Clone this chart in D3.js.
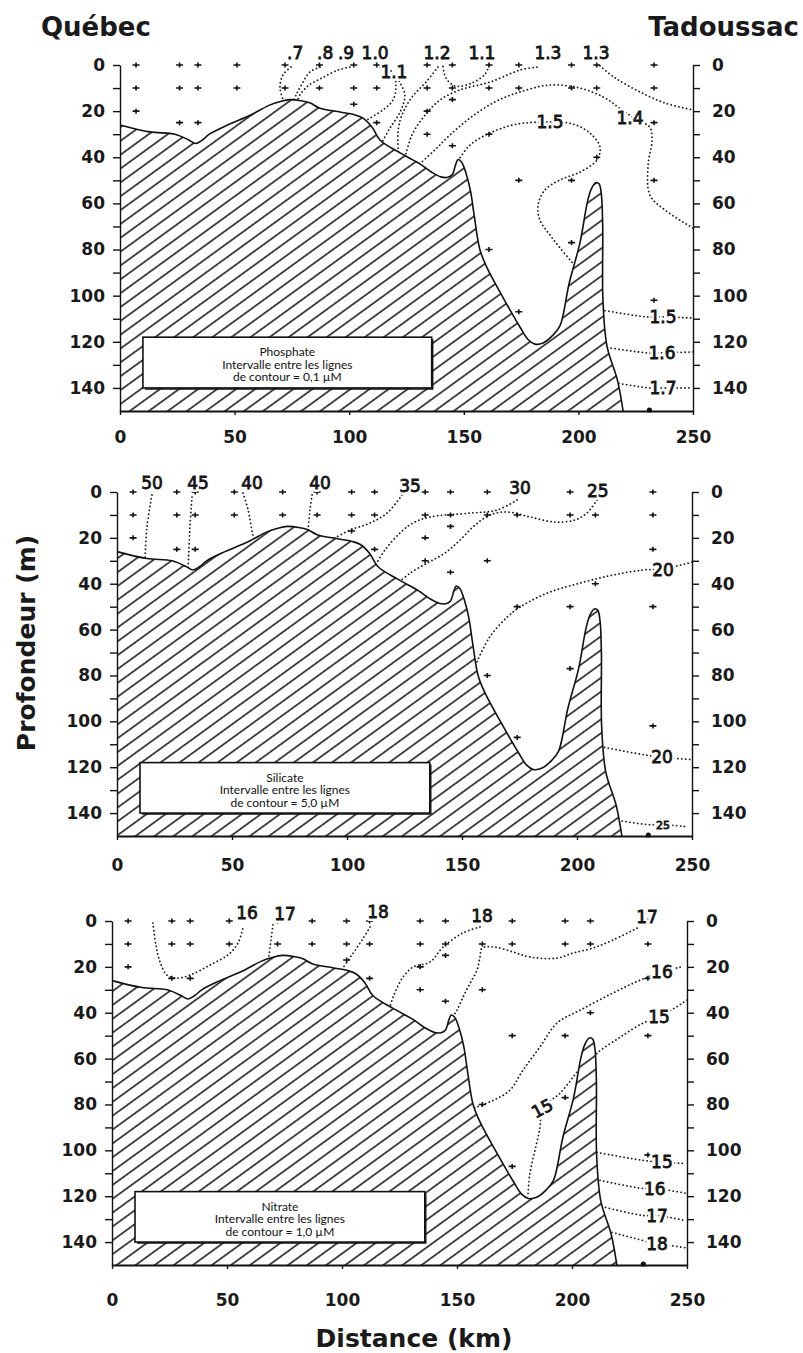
<!DOCTYPE html>
<html lang="fr">
<head>
<meta charset="UTF-8">
<title>Phosphate, silicate, nitrate - Québec à Tadoussac</title>
<style>
  body { margin: 0; background: #fff; }
  svg { display: block; }
  .big { font-family: "DejaVu Sans", sans-serif; font-weight: bold; font-size: 26px; fill: #1a1a1a; }
  .axis text { font-family: "DejaVu Sans", sans-serif; font-weight: bold; font-size: 17px; fill: #1a1a1a; }
  .axis path, .axis line { stroke: #111; stroke-width: 1.4; }
  .xaxis path { stroke-width: 2.2; }
  .contour { fill: none; stroke: #1a1a1a; stroke-width: 1.8; stroke-dasharray: 0.1 3.8; stroke-linecap: round; }
  .halo { font-family: "DejaVu Sans", sans-serif; font-size: 17px; fill: #fff; stroke: #fff; stroke-width: 6px; stroke-linejoin: round; }
  .clabel { font-family: "DejaVu Sans", sans-serif; font-size: 17px; fill: #151515; stroke: #151515; stroke-width: 0.8px; }
  .legend text { font-family: "Lato", "Noto Sans", sans-serif; font-size: 12px; fill: #111; }
</style>
</head>
<body>
<svg width="803" height="1353"></svg>
<script src="https://d3js.org/d3.v7.min.js"></script>
<script>

  var distanceTicks = [0, 50, 100, 150, 200, 250];
  var depthTicks = [0, 10, 20, 30, 40, 50, 60, 70, 80, 90, 100, 110, 120, 130, 140];
  var depthLabels = [0, 20, 40, 60, 80, 100, 120, 140];

  // fond du chenal (km, profondeur m)
  var bottomProfile = [
    [0, 26], [13, 29], [24, 30], [30, 32.5], [33, 34], [36, 32.5], [39, 30], [47, 26],
    [57, 21.7], [65, 17.5], [70, 15.8], [74, 15], [79, 15.5], [83, 16.5], [87, 18.6],
    [96, 20.4], [102, 21.5], [106, 23], [110, 27], [113.4, 32.5], [122, 38], [131, 43],
    [136, 46.5], [140, 48.5], [143, 48.7], [145, 47.5], [146.5, 43], [147.5, 41],
    [149, 42], [151, 47], [153, 55], [154.5, 65], [157, 80], [160, 87.6], [167, 100.6],
    [174.5, 113.6], [178, 119], [181, 121], [184.6, 120.5], [189, 117], [192, 113],
    [196, 94.5], [200.7, 77], [203.8, 60], [205.5, 54], [207.5, 51], [209, 51.5],
    [210, 56], [210.6, 70], [210.7, 101.9], [212.5, 122], [217, 136.5], [219.5, 150]
  ];

  var stations = [
    {km: 7, depths: [0, 10, 20]},
    {km: 26, depths: [0, 10, 25]},
    {km: 34, depths: [0, 10, 25]},
    {km: 51, depths: [0, 10]},
    {km: 72, depths: [0, 10]},
    {km: 87, depths: [0, 10]},
    {km: 102, depths: [0, 10, 17]},
    {km: 112, depths: [0, 10, 25]},
    {km: 134, depths: [0, 10, 20, 30]},
    {km: 145, depths: [0, 10, 15, 35]},
    {km: 161, depths: [0, 10, 30, 80]},
    {km: 174, depths: [0, 10, 50, 107]},
    {km: 197, depths: [0, 10, 50, 77]},
    {km: 208, depths: [0, 10, 40]},
    {km: 233, depths: [0, 10, 25, 50, 102]}
  ];
  var bottomSample = [231, 150];

  var phosphateContours = [
    {id: "p07", label: ".7", at: [76.4, -5.4], pts: [[74.6, 0.9], [71.1, 4.3], [69.8, 10], [71.6, 16]]},
    {id: "p08", label: ".8", at: [89.5, -5.4], pts: [[87.3, 0.9], [82.9, 3], [79.4, 8.2], [76.8, 13], [75.5, 16]]},
    {id: "p09", label: ".9", at: [98.6, -5.4], pts: [[100.3, 0.9], [95.1, 2.2], [88.1, 5.6], [82, 9.1], [78.5, 13], [77.2, 16]]},
    {id: "p10", label: "1.0", at: [111.3, -5.4], pts: [[113.4, 0.9], [118.7, 3], [120.4, 8.7], [119.1, 15.2], [114.7, 19.5], [108.2, 23.5]]},
    {id: "p11a", label: "1.1", at: [119.5, 3], pts: [[121.8, 7], [124.3, 13], [122.2, 20.4], [117.8, 27.3], [114.3, 33.5]]},
    {id: "p12", label: "1.2", at: [138.3, -5.4], pts: [[138.7, 0.9], [133.5, 7.4], [127.4, 13.9], [123, 21.7], [121.3, 29], [121.5, 38]]},
    {id: "p11b", label: "1.1", at: [157.9, -5.4], pts: [[161, 0.4], [159.3, 3.9], [153.6, 7.8], [146.2, 9.1], [142.2, 5.6], [140.9, 0.4]]},
    {id: "p13a", label: "1.3", at: [186.7, -5.4], pts: [[181.9, 0.9], [174.5, 2.2], [161.4, 7.4], [148.3, 10.8], [139.6, 15.2], [133.1, 21.7], [127.4, 30.3], [124.5, 39.5]]},
    {id: "p13b", label: "1.3", at: [207.7, -5.4], pts: [[209.4, 0.4], [216, 5.6], [226.9, 11.7], [237.8, 16.5], [250, 19.5]]},
    {id: "p14", label: "1.4", at: [222.5, 23], pts: [[129.5, 44], [137.4, 36.8], [144, 30.3], [152.7, 23], [163.6, 16], [174.5, 11.7], [187.6, 8.7], [200.7, 10], [211.6, 14.3], [219, 19.5], [226, 24], [231.2, 27], [232.1, 33], [230.4, 43.3], [231.2, 56.4], [237.8, 62.9], [250, 70.7]]},
    {id: "p15a", label: "1.5", at: [187.6, 24.7], pts: [[147.5, 41.5], [152.7, 34.7], [161.4, 29.5], [172.3, 25.8], [187.6, 24.7], [197.6, 25.6], [205, 29.5], [209.4, 35.5], [208.1, 41.2], [200.7, 46.4], [192, 49.8], [185.4, 54.2], [182.4, 60.7], [183.2, 67.2], [187.6, 73.7], [192, 79.3], [197.6, 86]]},
    {id: "p15b", label: "1.5", at: [236.9, 109.2], pts: [[210, 106.2], [229.9, 109.2], [236.9, 109.2], [250, 109.7]]},
    {id: "p16", label: "1.6", at: [236.5, 124.8], pts: [[211, 122.2], [229.9, 124.8], [236.5, 124.8], [250, 124.4]]},
    {id: "p17", label: "1.7", at: [236.9, 140], pts: [[216, 137.8], [231.2, 140], [236.9, 140], [248.7, 140]]}
  ];

  var silicateContours = [
    {id: "s50", label: "50", at: [15.2, -4], pts: [[15.2, 1.3], [13, 15.3], [12.2, 29.5]]},
    {id: "s45", label: "45", at: [35.2, -4], pts: [[32.6, 2.2], [31.7, 15.3], [30.9, 34.5]]},
    {id: "s40a", label: "40", at: [58.7, -4], pts: [[54.8, 0.5], [57, 7.8], [59.1, 18.7], [60, 21]]},
    {id: "s40b", label: "40", at: [88.3, -4], pts: [[84.8, 1.3], [83.9, 7.9], [83, 17.5]]},
    {id: "s35", label: "35", at: [127.4, -2.6], pts: [[123.9, 1.3], [117.4, 9.2], [110, 13.5], [101.3, 16.6], [93.9, 20.5]]},
    {id: "s30", label: "30", at: [175.2, -1.7], pts: [[173.9, 3.5], [165.2, 7.9], [153.5, 9.2], [136.1, 10.9], [128.7, 13.5], [123, 17.9], [116.5, 25.3], [112, 32.5]]},
    {id: "s25", label: "25", at: [209, -0.4], pts: [[208.7, 3.5], [204.3, 9.2], [199.1, 12.2], [190.4, 13.1], [179.6, 10.9], [169.6, 8.7], [162.2, 10], [155.7, 14.4], [149.1, 21], [142.6, 26.6], [134.8, 31], [127.4, 35.4], [123, 39]]},
    {id: "s20a", label: "20", at: [237.4, 34], pts: [[156.5, 74], [162, 63.3], [169.6, 54.6], [175.2, 50.2], [187, 44.1], [201.3, 39.7], [215.7, 36.2], [228.7, 34], [237.4, 33.5], [250, 30.6]]},
    {id: "s20b", label: "20", at: [237, 115.7], pts: [[212, 111.4], [230.4, 114.8], [237, 115.7], [249, 116.6]]},
    {id: "s25b", label: "25", at: [237.4, 145], pts: [[218, 143.2], [230.4, 145], [237.4, 145], [247, 145.9]]}
  ];

  var nitrateContours = [
    {id: "n16a", label: "16", at: [58.7, -3.5], pts: [[17.8, 0.9], [19.1, 10.5], [20.9, 17.9], [23.9, 23.6], [28.3, 24.9], [33.9, 23.6], [42.6, 19.2], [50.4, 14.8], [54.8, 9.6], [57, 2.6]]},
    {id: "n17a", label: "17", at: [75.2, -3], pts: [[70, 1.7], [69.1, 8.3], [68.3, 14.8], [67.8, 18]]},
    {id: "n18a", label: "18", at: [115.7, -3.9], pts: [[112.2, 2.6], [108.7, 8.3], [104.3, 14.8], [100, 21]]},
    {id: "n18b", label: "18", at: [160.9, -2.2], pts: [[160, 2.6], [152.6, 5.2], [143.9, 11.4], [138.3, 17.9], [130.9, 20.1], [126.5, 24.5], [122.2, 33.2], [120.9, 37.5]]},
    {id: "n17b", label: "17", at: [232.6, -1.7], pts: [[228.3, 3.1], [217.8, 8.3], [209.1, 11.8], [200.4, 14], [193.5, 16.2], [181.7, 15.7], [174.3, 13.5], [166.5, 11.4], [160.9, 11.8], [160, 15.7], [158.7, 21.4], [155.7, 27.1], [152.6, 33.2], [150, 38.9], [148, 42]]},
    {id: "n16b", label: "16", at: [239.1, 22.3], pts: [[247, 20.1], [239.1, 22.3], [229.6, 25.8], [217.8, 31.4], [203.5, 38.9], [193.5, 44.5], [186, 55], [178.7, 65], [173, 73.8], [165.7, 78.2], [157.5, 81.5]]},
    {id: "n15a", label: "15", at: [237.8, 41.9], pts: [[250, 34.5], [237.8, 41.9], [230.9, 44.5], [220.9, 50.7], [210.9, 57.6], [209, 60]]},
    {id: "n15b", label: "15", at: [187, 81.7], pts: [[202, 66], [194.8, 75.1], [187, 81.7], [186.1, 90], [183.9, 100], [181.7, 110], [180.8, 120]]},
    {id: "n15c", label: "15", at: [239.1, 105.2], pts: [[210.9, 100.9], [230.9, 104.4], [239.1, 105.2], [248.3, 105.7]]},
    {id: "n16c", label: "16", at: [236, 116.6], pts: [[212.2, 113.1], [230.9, 116.6], [236, 116.6], [250, 118.8]]},
    {id: "n17c", label: "17", at: [237, 128.4], pts: [[213, 124.5], [230.9, 128.4], [237, 128.4], [249, 130.6]]},
    {id: "n18c", label: "18", at: [237, 140.6], pts: [[217.4, 135.8], [230.9, 139.3], [237, 140.6], [249, 142.4]]}
  ];

  // quelques étiquettes dessinées autrement
  var labelTweaks = {
    s25b: {size: 11},
    n15b: {rotate: -28}
  };

  var panels = [
    {name: "Phosphate", step: "0,1", contours: phosphateContours, x0: 120, x1: 693, y0: 65, y1: 411, xPad: 16},
    {name: "Silicate", step: "5,0", contours: silicateContours, x0: 117, x1: 692, y0: 492, y1: 836, xPad: 19},
    {name: "Nitrate", step: "1,0", contours: nitrateContours, x0: 112, x1: 687, y0: 921, y1: 1265, xPad: 25}
  ];

  var svg = d3.select("svg");
  var defs = svg.append("defs");

  var pat = defs.append("pattern").attr("id", "hatch")
    .attr("patternUnits", "userSpaceOnUse")
    .attr("width", 40).attr("height", 11.2)
    .attr("patternTransform", "rotate(-36)");
  pat.append("line").attr("x1", 0).attr("x2", 40).attr("y1", 5.6).attr("y2", 5.6)
    .attr("stroke", "#000").attr("stroke-width", 1.3);

  svg.append("text").attr("class", "big").attr("x", 41).attr("y", 36).text("Québec");
  svg.append("text").attr("class", "big").attr("x", 799).attr("y", 36)
    .attr("text-anchor", "end").text("Tadoussac");
  svg.append("text").attr("class", "big")
    .attr("transform", "translate(35,643) rotate(-90)")
    .attr("text-anchor", "middle").style("font-size", "25px").text("Profondeur (m)");
  svg.append("text").attr("class", "big").attr("x", 414).attr("y", 1347)
    .attr("text-anchor", "middle").style("font-size", "25px").text("Distance (km)");

  panels.forEach(function(p) {
    var x = d3.scaleLinear().domain([0, 250]).range([p.x0, p.x1]);
    var y = d3.scaleLinear().domain([0, 150]).range([p.y0, p.y1]);
    var g = svg.append("g");

    var line = d3.line().x(function(d) { return x(d[0]); }).y(function(d) { return y(d[1]); })
      .curve(d3.curveCatmullRom.alpha(0.5));

    g.selectAll(".contour").data(p.contours).join("path")
      .attr("class", "contour")
      .attr("d", function(d) { return line(d.pts); });

    var area = d3.area().x(function(d) { return x(d[0]); })
      .y0(y(150)).y1(function(d) { return y(d[1]); })
      .curve(d3.curveCatmullRom.alpha(0.5));

    g.append("path").datum(bottomProfile).attr("d", area).attr("fill", "#fff");
    g.append("path").datum(bottomProfile).attr("d", area).attr("fill", "url(#hatch)");
    g.append("path").datum(bottomProfile).attr("d", line)
      .attr("fill", "none").attr("stroke", "#111").attr("stroke-width", 1.6);

    // stations d'échantillonnage
    var samples = [];
    stations.forEach(function(s) {
      s.depths.forEach(function(d) { samples.push([s.km, d]); });
    });
    g.selectAll(".stn").data(samples).join("path")
      .attr("class", "stn")
      .attr("transform", function(d) { return "translate(" + x(d[0]) + "," + y(d[1]) + ")"; })
      .attr("d", "M-3.5,0H3.5M0,-2.5V2.5")
      .attr("stroke", "#111").attr("stroke-width", 1.6);
    g.append("circle").attr("cx", x(bottomSample[0])).attr("cy", y(bottomSample[1]) - 1)
      .attr("r", 2.6).attr("fill", "#111");

    // étiquettes des isolignes
    var labs = g.selectAll(".lab").data(p.contours).join("g").attr("class", "lab")
      .attr("transform", function(d) {
        var t = "translate(" + x(d.at[0]) + "," + y(d.at[1]) + ")";
        var tw = labelTweaks[d.id];
        return tw && tw.rotate ? t + " rotate(" + tw.rotate + ")" : t;
      });
    ["halo", "clabel"].forEach(function(cls) {
      labs.append("text").attr("class", cls)
        .attr("text-anchor", "middle").attr("dy", "0.36em")
        .style("font-size", function(d) {
          var tw = labelTweaks[d.id];
          return tw && tw.size ? tw.size + "px" : null;
        })
        .text(function(d) { return d.label; });
    });

    // axes
    g.append("g").attr("class", "axis")
      .attr("transform", "translate(" + x(0) + ",0)")
      .call(d3.axisLeft(y).tickValues(depthTicks)
        .tickFormat(function(d) { return depthLabels.indexOf(d) >= 0 ? d : ""; })
        .tickSize(7).tickSizeOuter(0).tickPadding(8));

    g.append("g").attr("class", "axis")
      .attr("transform", "translate(" + x(250) + ",0)")
      .call(d3.axisRight(y).tickValues(depthTicks)
        .tickFormat(function(d) { return depthLabels.indexOf(d) >= 0 ? d : ""; })
        .tickSize(7).tickSizeOuter(0).tickPadding(12));

    g.append("g").attr("class", "axis xaxis")
      .attr("transform", "translate(0," + y(150) + ")")
      .call(d3.axisBottom(x).tickValues(distanceTicks)
        .tickSize(4).tickSizeOuter(0).tickPadding(p.xPad));

    // boîte de légende
    var lg = g.append("g").attr("class", "legend");
    var bx = x(10), by = y(118), bw = x(136) - x(10), bh = y(140) - y(118);
    lg.append("rect")
      .attr("x", bx).attr("y", by).attr("width", bw).attr("height", bh)
      .attr("fill", "#fff").attr("stroke", "#111").attr("stroke-width", 1.6);
    lg.append("path")
      .attr("d", "M" + (bx + 2) + "," + (by + bh + 1) + "H" + (bx + bw + 1) + "V" + (by + 2))
      .attr("fill", "none").attr("stroke", "#111").attr("stroke-width", 1.4);
    var legendLines = [p.name, "Intervalle entre les lignes", "de contour = " + p.step + " µM"];
    legendLines.forEach(function(t, k) {
      lg.append("text").attr("x", bx + bw / 2).attr("y", by + 19 + k * 12.5)
        .attr("text-anchor", "middle").text(t);
    });
  });

</script>
</body>
</html>
